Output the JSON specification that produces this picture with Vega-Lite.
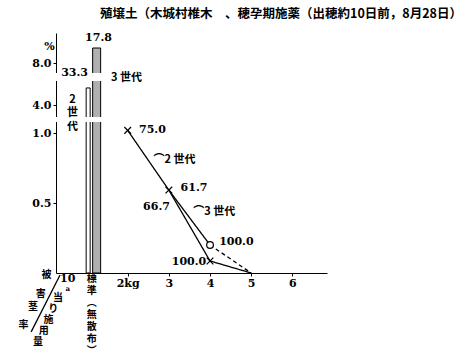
{
  "$schema": "https://vega.github.io/schema/vega-lite/v6.json",
  "width": 271,
  "height": 240,
  "autosize": {"type": "none"},
  "padding": {"left": 56, "top": 33, "right": 146, "bottom": 84},
  "background": "white",
  "title": {
    "text": "殖壌土（木城村椎木　、穂孕期施薬（出穂約10日前，8月28日）",
    "anchor": "start",
    "frame": "group",
    "dx": 44,
    "offset": 12,
    "font": "Noto Sans CJK JP",
    "fontSize": 12.5,
    "fontWeight": "bold",
    "color": "black"
  },
  "config": {"view": {"stroke": null}, "axis": {"grid": false}},
  "datasets": {
    "bars": [
      {"gen": "2世代", "x": 1.04, "y": 5.42},
      {"gen": "3世代", "x": 1.246, "y": 9.5}
    ],
    "breaks": [
      {"x": 0.25, "x2": 1.45, "y": 1.08, "y2": 3},
      {"x": 0.25, "x2": 1.45, "y": 6, "y2": 7}
    ],
    "lines": [
      {"seg": "2世代", "x": 2, "y": 1.02, "mk": "x"},
      {"seg": "2世代", "x": 3, "y": 0.593, "mk": "x"},
      {"seg": "2世代", "x": 4, "y": 0.086, "mk": "x"},
      {"seg": "2世代", "x": 5, "y": 0, "mk": "none"},
      {"seg": "3世代 3-4kg", "x": 3, "y": 0.593, "mk": "none"},
      {"seg": "3世代 3-4kg", "x": 4, "y": 0.2, "mk": "circle"},
      {"seg": "3世代 4-5kg", "x": 4, "y": 0.2, "mk": "none"},
      {"seg": "3世代 4-5kg", "x": 5, "y": 0, "mk": "none"}
    ],
    "diag": [
      {"x": 0.357, "y": -0.014, "x2": -0.345, "y2": -0.421}
    ],
    "nums": [
      {"t": "75.0", "x": 2.6, "y": 1.021},
      {"t": "61.7", "x": 3.61, "y": 0.607},
      {"t": "66.7", "x": 2.7, "y": 0.471},
      {"t": "100.0", "x": 4.64, "y": 0.221},
      {"t": "100.0", "x": 3.49, "y": 0.079},
      {"t": "33.3", "x": 0.71, "y": 7.0},
      {"t": "17.8", "x": 1.29, "y": 10.5},
      {"t": "%", "x": 0.1, "y": 9.6},
      {"t": "10", "x": 0.544, "y": -0.04}
    ],
    "small": [
      {"t": "a", "x": 0.544, "y": -0.112}
    ],
    "jp": [
      {"t": "3 世代", "x": 1.97, "y": 6.375},
      {"t": "⌒2 世代", "x": 3.14, "y": 0.807},
      {"t": "⌒3 世代", "x": 4.1, "y": 0.436}
    ],
    "vert": [
      {"t": "2\n世\n代", "x": 0.66, "y": 4.917}
    ],
    "vert2": [
      {"t": "標\n準\n︵\n無\n散\n布\n︶", "x": 1.129, "y": -0.007}
    ],
    "axisjp": [
      {"t": "被", "x": 0.029, "y": -0.014},
      {"t": "害", "x": -0.111, "y": -0.15},
      {"t": "茎", "x": -0.299, "y": -0.243},
      {"t": "率", "x": -0.532, "y": -0.371},
      {"t": "当", "x": 0.31, "y": -0.178},
      {"t": "り", "x": 0.193, "y": -0.257},
      {"t": "施", "x": 0.076, "y": -0.333},
      {"t": "用", "x": -0.041, "y": -0.412},
      {"t": "量", "x": -0.18, "y": -0.493}
    ]
  },
  "encoding": {
    "x": {
      "field": "x",
      "type": "quantitative",
      "scale": {"domain": [0.38, 6.72], "nice": false, "zero": false},
      "axis": {
        "title": null,
        "values": [2, 3, 4, 5, 6],
        "labelExpr": "datum.value === 2 ? '2kg' : format(datum.value, 'd')",
        "labelFont": "DejaVu Serif",
        "labelFontWeight": "bold",
        "labelFontSize": 11,
        "labelColor": "black",
        "labelPadding": 1,
        "tickColor": "black",
        "tickSize": 3,
        "domainColor": "black",
        "grid": false
      }
    },
    "y": {
      "field": "y",
      "type": "quantitative",
      "scale": {
        "domain": [0, 1.08, 3, 6, 7, 11],
        "range": [240, 89, 84, 48, 40, 0],
        "nice": false,
        "zero": false
      },
      "axis": {
        "title": null,
        "values": [0.5, 1, 4, 8],
        "format": ".1f",
        "labelFont": "DejaVu Serif",
        "labelFontWeight": "bold",
        "labelFontSize": 11,
        "labelColor": "black",
        "labelPadding": 2,
        "tickColor": "black",
        "tickSize": 3,
        "domainColor": "black",
        "grid": false
      }
    }
  },
  "layer": [
    {
      "data": {"name": "bars"},
      "mark": {"type": "bar", "orient": "vertical", "stroke": "black", "strokeWidth": 1},
      "encoding": {
        "y2": {"datum": 0},
        "fill": {"field": "gen", "type": "nominal", "scale": {"domain": ["2世代", "3世代"], "range": ["white", "#b0b0b0"]}, "legend": null},
        "size": {"field": "gen", "type": "nominal", "scale": {"domain": ["2世代", "3世代"], "range": [4, 8]}, "legend": null}
      }
    },
    {
      "data": {"name": "breaks"},
      "mark": {"type": "rect", "fill": "white", "stroke": null},
      "encoding": {
        "x2": {"field": "x2"},
        "y2": {"field": "y2"}
      }
    },
    {
      "data": {"name": "lines"},
      "mark": {"type": "line", "color": "black", "strokeWidth": 1.3},
      "encoding": {
        "detail": {"field": "seg", "type": "nominal"},
        "strokeDash": {"field": "seg", "type": "nominal", "scale": {"domain": ["2世代", "3世代 3-4kg", "3世代 4-5kg"], "range": [[1, 0], [1, 0], [4, 3]]}, "legend": null}
      }
    },
    {
      "data": {"name": "lines"},
      "transform": [{"filter": "datum.mk !== 'none'"}],
      "mark": {"type": "point", "filled": true, "fill": "white", "stroke": "black", "strokeWidth": 1.2, "size": 45, "opacity": 1},
      "encoding": {
        "shape": {"field": "mk", "type": "nominal", "scale": {"domain": ["x", "circle"], "range": ["M-1,-1L1,1M-1,1L1,-1", "circle"]}, "legend": null}
      }
    },
    {
      "data": {"name": "diag"},
      "mark": {"type": "rule", "color": "black", "strokeWidth": 1.3},
      "encoding": {
        "x2": {"field": "x2"},
        "y2": {"field": "y2"}
      }
    },
    {
      "data": {"name": "nums"},
      "mark": {"type": "text", "font": "DejaVu Serif", "fontWeight": "bold", "fontSize": 11, "align": "center", "baseline": "middle", "color": "black"},
      "encoding": {"text": {"field": "t"}}
    },
    {
      "data": {"name": "small"},
      "mark": {"type": "text", "font": "DejaVu Serif", "fontWeight": "bold", "fontSize": 7, "align": "center", "baseline": "middle", "color": "black"},
      "encoding": {"text": {"field": "t"}}
    },
    {
      "data": {"name": "jp"},
      "mark": {"type": "text", "font": "Noto Sans CJK JP", "fontWeight": "bold", "fontSize": 11, "align": "center", "baseline": "middle", "color": "black"},
      "encoding": {"text": {"field": "t"}}
    },
    {
      "data": {"name": "vert"},
      "mark": {"type": "text", "font": "Noto Sans CJK JP", "fontWeight": "bold", "fontSize": 11, "align": "center", "baseline": "top", "lineBreak": "\n", "lineHeight": 13.5, "color": "black"},
      "encoding": {"text": {"field": "t"}}
    },
    {
      "data": {"name": "vert2"},
      "mark": {"type": "text", "font": "Noto Sans CJK JP", "fontWeight": "bold", "fontSize": 10, "align": "center", "baseline": "top", "lineBreak": "\n", "lineHeight": 12, "color": "black"},
      "encoding": {"text": {"field": "t"}}
    },
    {
      "data": {"name": "axisjp"},
      "mark": {"type": "text", "font": "Noto Sans CJK JP", "fontWeight": "bold", "fontSize": 10, "align": "center", "baseline": "middle", "color": "black"},
      "encoding": {"text": {"field": "t"}}
    }
  ]
}
